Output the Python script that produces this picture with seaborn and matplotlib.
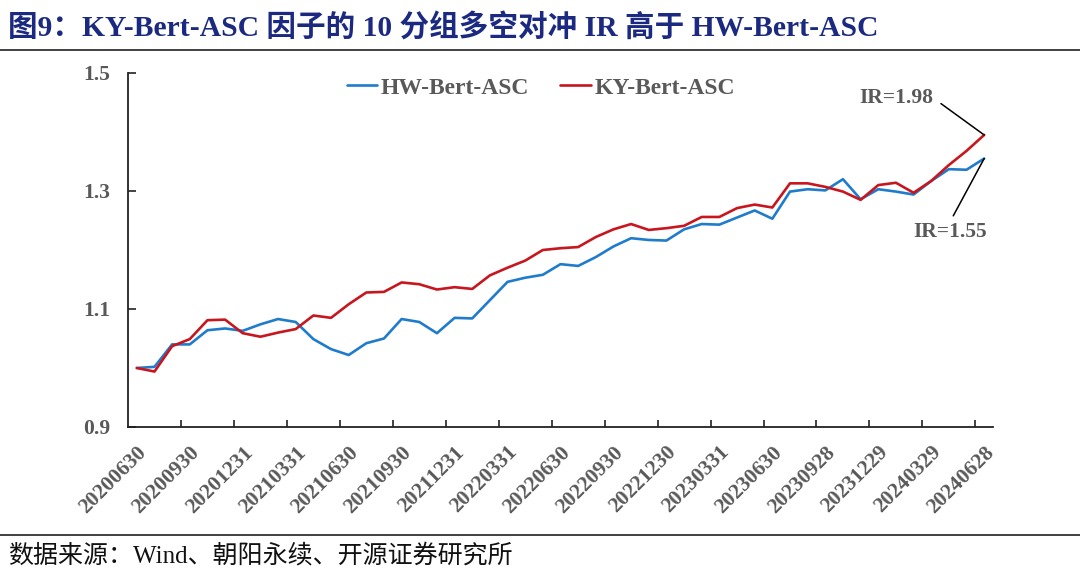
import numpy as np
import pandas as pd
import seaborn as sns
import matplotlib
matplotlib.use("Agg")
import matplotlib.pyplot as plt
from matplotlib.lines import Line2D

# ---------------- data ----------------
tick_labels = ["20200630", "20200930", "20201231", "20210331", "20210630",
               "20210930", "20211231", "20220331", "20220630", "20220930",
               "20221230", "20230331", "20230630", "20230928", "20231229",
               "20240329", "20240628"]

hw_bert_asc = [1.000, 1.002, 1.040, 1.040, 1.064, 1.067, 1.063, 1.074, 1.083, 1.078,
               1.049, 1.032, 1.022, 1.042, 1.050, 1.083, 1.078, 1.059, 1.085, 1.084,
               1.115, 1.146, 1.153, 1.158, 1.176, 1.173, 1.188, 1.206, 1.220, 1.217,
               1.216, 1.235, 1.244, 1.243, 1.255, 1.267, 1.253, 1.299, 1.303, 1.301,
               1.320, 1.286, 1.303, 1.299, 1.294, 1.317, 1.337, 1.336, 1.355]

ky_bert_asc = [1.000, 0.994, 1.037, 1.049, 1.081, 1.082, 1.059, 1.053, 1.060, 1.066,
               1.089, 1.085, 1.108, 1.128, 1.129, 1.145, 1.142, 1.133, 1.137, 1.134,
               1.157, 1.170, 1.182, 1.200, 1.203, 1.205, 1.222, 1.235, 1.244, 1.234,
               1.237, 1.241, 1.256, 1.256, 1.271, 1.277, 1.272, 1.313, 1.313, 1.307,
               1.299, 1.285, 1.310, 1.314, 1.297, 1.317, 1.344, 1.368, 1.395]

series_names = ["HW-Bert-ASC", "KY-Bert-ASC"]
ir_labels = ["IR=1.55", "IR=1.98"]
y_ticks = [0.9, 1.1, 1.3, 1.5]
title_text = "图9：KY-Bert-ASC 因子的 10 分组多空对冲 IR 高于 HW-Bert-ASC"
source_text = "数据来源：Wind、朝阳永续、开源证券研究所"

# ---------------- style ----------------
sns.set_style("white")
FONT = ["Liberation Serif", "Noto Sans CJK SC", "DejaVu Sans"]
plt.rcParams["font.family"] = FONT
plt.rcParams["xtick.direction"] = "in"
plt.rcParams["ytick.direction"] = "in"
plt.rcParams["xtick.bottom"] = True
plt.rcParams["ytick.left"] = True
GRAY = "#595959"
BLUE = "#1f7ccc"
RED = "#c8161e"

n = len(hw_bert_asc)
df = pd.DataFrame({
    "idx": list(range(n)) * 2,
    "value": hw_bert_asc + ky_bert_asc,
    "series": [series_names[0]] * n + [series_names[1]] * n,
})

fig = plt.figure(figsize=(10.8, 5.83), dpi=100)
ax = fig.add_axes([128 / 1080, 1 - 427 / 583, (993 - 128) / 1080, (427 - 73) / 583])

sns.lineplot(data=df, x="idx", y="value", hue="series",
             palette={series_names[0]: BLUE, series_names[1]: RED},
             linewidth=1.9, ax=ax, legend=True)

ax.set_xlim(-0.5, n - 0.5)
ax.set_ylim(0.9, 1.5)
ax.set_xlabel("")
ax.set_ylabel("")

# x ticks: labels at every 3rd category, tick marks at category boundaries
label_pos = list(range(0, n, 3))
ax.set_xticks(label_pos)
ax.set_xticklabels(tick_labels, rotation=45, ha="right", rotation_mode="anchor",
                   fontsize=15.5, fontweight="bold", color=GRAY)
ax.set_xticks([p + 2.5 for p in label_pos[:-1]], minor=True)
ax.tick_params(axis="x", which="major", bottom=True, length=0, pad=11)
ax.tick_params(axis="x", which="minor", bottom=True, length=5, width=1.2,
               direction="in", color="#222222")

ax.set_yticks(y_ticks)
ax.set_yticklabels([f"{v:.1f}" for v in y_ticks], fontsize=15.5, fontweight="bold", color=GRAY)
ax.tick_params(axis="y", which="major", left=True, length=6, width=1.2,
               direction="in", color="#222222", pad=13)

for s in ["top", "right"]:
    ax.spines[s].set_visible(False)
for s in ["left", "bottom"]:
    ax.spines[s].set_color("#222222")
    ax.spines[s].set_linewidth(1.3)

# legend
handles, labels = ax.get_legend_handles_labels()
leg = ax.legend(handles, labels, loc="center", bbox_to_anchor=(0.477, 0.958), ncol=2,
                frameon=False, handlelength=1.3, handletextpad=0.15, columnspacing=1.3,
                prop={"family": FONT, "weight": "bold", "size": 17})
for t in leg.get_texts():
    t.set_color(GRAY)

# IR annotations
ax.annotate(ir_labels[1], xy=(n - 1, ky_bert_asc[-1]), xytext=(-51, 37),
            textcoords="offset pixels", ha="right", va="center",
            fontsize=15.5, fontweight="bold", color=GRAY,
            arrowprops=dict(arrowstyle="-", color="black", lw=1.1,
                            relpos=(1, 0.5), shrinkA=4, shrinkB=0))
ax.annotate(ir_labels[0], xy=(n - 1, hw_bert_asc[-1]), xytext=(-34, -73),
            textcoords="offset pixels", ha="center", va="center",
            fontsize=15.5, fontweight="bold", color=GRAY,
            arrowprops=dict(arrowstyle="-", color="black", lw=1.1,
                            relpos=(0.5, 1), shrinkA=2, shrinkB=0))

# title, rules, source
fig.text(8 / 1080, 1 - 27 / 583, title_text, ha="left", va="center",
         fontsize=21.3, fontweight="bold", color="#1b2a80")
fig.add_artist(Line2D([0, 1], [1 - 50 / 583, 1 - 50 / 583], transform=fig.transFigure,
                      color="#404040", lw=1.4))
fig.add_artist(Line2D([0, 1], [1 - 535 / 583, 1 - 535 / 583], transform=fig.transFigure,
                      color="#404040", lw=1.4))
fig.text(8 / 1080, 1 - 556 / 583, source_text, ha="left", va="center",
         fontsize=18, color="#111111")

fig.savefig("out.png", dpi=100, facecolor="white")
